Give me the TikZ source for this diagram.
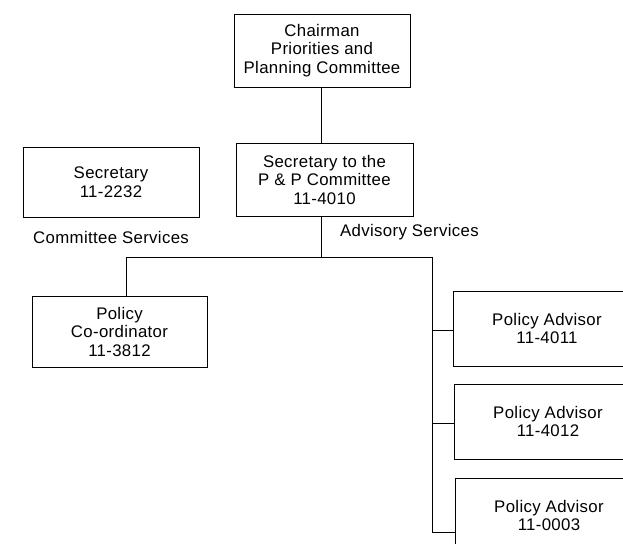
\documentclass[tikz,border=0pt]{standalone}
\usepackage{fontspec}
\setmainfont{Liberation Sans}[LetterSpace=2]
\begin{document}
\begin{tikzpicture}[x=1pt,y=-1pt,
  box/.style={draw, line width=0.8pt, rectangle, align=center, inner sep=0pt,
    font=\fontsize{16.8}{18.5}\selectfont},
  lbl/.style={font=\fontsize{16.8}{18.5}\selectfont, inner sep=0pt},
  conn/.style={line width=0.8pt}]
\useasboundingbox (0,0) rectangle (623,543);
\clip (0,0) rectangle (623,543);
\node[box, minimum width=176pt, minimum height=73pt] (chair) at (322,50.5)
  {Chairman\\Priorities and\\Planning Committee};
\node[box, minimum width=177pt, minimum height=73pt] (secpp) at (324.5,179.5)
  {Secretary to the\\P \& P Committee\\11-4010};
\node[box, minimum width=176pt, minimum height=70pt] (sec) at (111,182)
  {Secretary\\11-2232};
\node[lbl, anchor=west] (cs) at (33,237) {Committee Services};
\node[lbl, anchor=west] (as) at (340,232) {Advisory Services};
\node[box, minimum width=175pt, minimum height=71pt] (coord) at (119.5,331.5)
  {Policy\\Co-ordinator\\11-3812};
\node[box, minimum width=188pt, minimum height=75pt] (pa1) at (547,328.5)
  {Policy Advisor\\11-4011};
\node[box, minimum width=188pt, minimum height=75pt] (pa2) at (548,421.5)
  {Policy Advisor\\11-4012};
\node[box, minimum width=188pt, minimum height=75pt] (pa3) at (549,515.5)
  {Policy Advisor\\11-0003};
\coordinate (vx) at (321,0);
\coordinate (jc) at (321,257);
\coordinate (jl) at (126,257);
\coordinate (jr) at (432,257);
\coordinate (b1) at (432,330);
\coordinate (b2) at (432,423);
\coordinate (b3) at (432,532);
\draw[conn] (chair.south -| vx) -- (secpp.north -| vx);
\draw[conn] (secpp.south -| vx) -- (jc);
\draw[conn] (jl) -- (jr);
\draw[conn] (jl) -- (jl |- coord.north);
\draw[conn] (jr) -- (b3);
\draw[conn] (b1) -- (b1 -| pa1.west);
\draw[conn] (b2) -- (b2 -| pa2.west);
\draw[conn] (b3) -- (b3 -| pa3.west);
\end{tikzpicture}
\end{document}
